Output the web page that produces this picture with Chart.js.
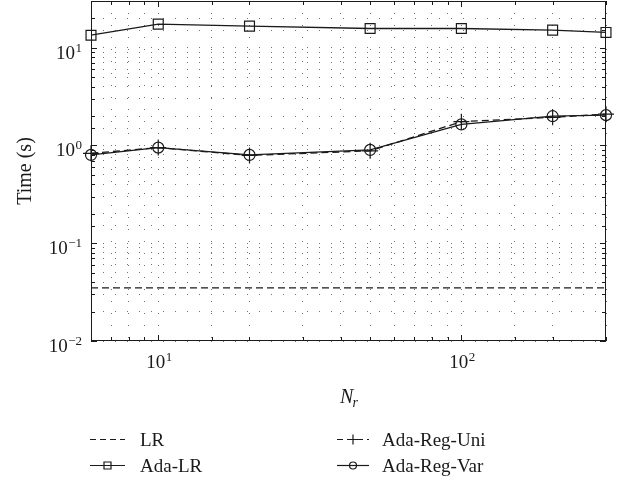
<!DOCTYPE html>
<html><head><meta charset="utf-8">
<script src="https://cdn.jsdelivr.net/npm/chart.js@4"></script>
<style>html,body{margin:0;padding:0;background:#fff}#wrap{width:621px;height:480px}</style>
</head><body><div id="wrap"><canvas id="c" width="621" height="480"></canvas></div>
<script>
// ---- data ----
const nr = [6, 10, 20, 50, 100, 200, 300];
const lr = [0.035, 0.035, 0.035, 0.035, 0.035, 0.035, 0.035];
const adaLR = [13.4, 17.4, 16.6, 15.7, 15.7, 15.1, 14.3];
const adaRegUni = [0.83, 0.95, 0.79, 0.88, 1.75, 1.94, 2.09];
const adaRegVar = [0.80, 0.95, 0.80, 0.90, 1.64, 1.99, 2.04];
const seriesNames = ['LR', 'Ada-LR', 'Ada-Reg-Uni', 'Ada-Reg-Var'];
const xRange = [6, 300];
const yRange = [0.01, 30];
const xTickLabels = [10, 100];
const yTickLabels = [0.01, 0.1, 1, 10];
const xTitleMain = 'N', xTitleSub = 'r';
const yTitle = 'Time (s)';

const INK = '#1a1a1a';
const FONT = '"Liberation Serif", "DejaVu Serif", serif';

function pts(ys) { return nr.map((x, i) => ({x: x, y: ys[i]})); }

const dash = [7, 4];
const datasets = [
  {label: seriesNames[0], data: pts(lr), borderDash: dash, pointRadius: 0, mk: 'none'},
  {label: seriesNames[1], data: pts(adaLR), pointStyle: 'rect', pointRadius: 7, mk: 'rect'},
  {label: seriesNames[2], data: pts(adaRegUni), borderDash: dash, pointStyle: 'cross', pointRadius: 8, mk: 'cross'},
  {label: seriesNames[3], data: pts(adaRegVar), pointStyle: 'circle', pointRadius: 5.5, mk: 'circle'}
].map(d => Object.assign({
  borderColor: INK, borderWidth: 1.3, backgroundColor: 'rgba(0,0,0,0)',
  pointBorderColor: INK, pointBackgroundColor: 'rgba(0,0,0,0)', pointBorderWidth: 1.2,
  pointHoverRadius: 0, tension: 0, clip: false, fill: false
}, d));

function supLabel(ctx, x, y, base, exp, align) {
  const mainF = '19px ' + FONT, supF = '13px ' + FONT;
  ctx.font = mainF; const wb = ctx.measureText(base).width;
  ctx.font = supF; const we = ctx.measureText(exp).width;
  const total = wb + we + 0.5;
  let x0 = align === 'right' ? x - total : x - total / 2;
  ctx.textAlign = 'left'; ctx.textBaseline = 'alphabetic';
  ctx.font = mainF; ctx.fillText(base, x0, y);
  ctx.font = supF; ctx.fillText(exp, x0 + wb + 0.5, y - 7);
}
function expStr(v) { const e = Math.round(Math.log10(v)); return (e < 0 ? '\u2212' : '') + Math.abs(e); }

function drawMarker(ctx, kind, x, y, s) {
  ctx.beginPath();
  if (kind === 'rect') { ctx.rect(x - s, y - s, 2 * s, 2 * s); }
  else if (kind === 'circle') { ctx.arc(x, y, s, 0, Math.PI * 2); }
  else if (kind === 'cross') { ctx.moveTo(x - s, y); ctx.lineTo(x + s, y); ctx.moveTo(x, y - s); ctx.lineTo(x, y + s); }
  ctx.stroke();
}

const decor = {
  id: 'decor',
  afterDraw(chart) {
    const ctx = chart.ctx, a = chart.chartArea;
    const xs = chart.scales.x, ys = chart.scales.y;
    ctx.save();
    ctx.strokeStyle = INK; ctx.lineWidth = 1; ctx.setLineDash([]);
    // box
    ctx.strokeRect(Math.round(a.left) + 0.5, Math.round(a.top) + 0.5, Math.round(a.right - a.left) - 1, Math.round(a.bottom - a.top) - 1);
    // inside ticks
    ctx.beginPath();
    xs.ticks.forEach(t => {
      const px = Math.round(xs.getPixelForValue(t.value)) + 0.5;
      const L = xTickLabels.includes(t.value) ? 6 : 4;
      ctx.moveTo(px, a.bottom); ctx.lineTo(px, a.bottom - L);
      ctx.moveTo(px, a.top); ctx.lineTo(px, a.top + L);
    });
    ys.ticks.forEach(t => {
      const py = Math.round(ys.getPixelForValue(t.value)) + 0.5;
      const L = yTickLabels.some(v => Math.abs(v - t.value) < 1e-9) ? 6 : 4;
      ctx.moveTo(a.left, py); ctx.lineTo(a.left + L, py);
      ctx.moveTo(a.right, py); ctx.lineTo(a.right - L, py);
    });
    ctx.stroke();
    // tick labels
    ctx.fillStyle = INK;
    xTickLabels.forEach(v => supLabel(ctx, xs.getPixelForValue(v) + 1, a.bottom + 27, '10', expStr(v), 'center'));
    yTickLabels.forEach(v => supLabel(ctx, a.left - 9, ys.getPixelForValue(v) + 11, '10', expStr(v), 'right'));
    // x title
    ctx.font = 'italic 20px ' + FONT; ctx.textAlign = 'left'; ctx.textBaseline = 'alphabetic';
    const wN = ctx.measureText(xTitleMain).width;
    ctx.font = 'italic 14px ' + FONT; const wr = ctx.measureText(xTitleSub).width;
    const cx = (a.left + a.right) / 2 + 1;
    const x0 = cx - (wN + wr) / 2;
    ctx.font = 'italic 20px ' + FONT; ctx.fillText(xTitleMain, x0, 403);
    ctx.font = 'italic 14px ' + FONT; ctx.fillText(xTitleSub, x0 + wN - 1, 407);
    // y title
    ctx.save();
    ctx.translate(31, (a.top + a.bottom) / 2);
    ctx.rotate(-Math.PI / 2);
    ctx.font = '20px ' + FONT; ctx.textAlign = 'center'; ctx.textBaseline = 'alphabetic';
    ctx.fillText(yTitle, 0, 0);
    ctx.restore();
    // legend
    const cols = [{x1: 90, x2: 125, tx: 140}, {x1: 337, x2: 369, tx: 382}];
    const rows = [439, 465];
    const order = [[0, 0, 0], [1, 0, 1], [2, 1, 0], [3, 1, 1]]; // dataset, col, row
    order.forEach(([di, ci, ri]) => {
      const d = chart.data.datasets[di];
      const c = cols[ci], y = rows[ri] + 0.5;
      ctx.strokeStyle = INK; ctx.lineWidth = 1.2;
      ctx.setLineDash(d.borderDash ? [6, 4] : []);
      ctx.beginPath(); ctx.moveTo(c.x1, y); ctx.lineTo(c.x2, y); ctx.stroke();
      ctx.setLineDash([]);
      const mx = (c.x1 + c.x2) / 2;
      if (d.mk === 'rect') drawMarker(ctx, 'rect', mx, y, 3.5);
      if (d.mk === 'circle') drawMarker(ctx, 'circle', mx, y, 3.5);
      if (d.mk === 'cross') drawMarker(ctx, 'cross', mx, y, 5);
      ctx.font = '19px ' + FONT; ctx.textAlign = 'left'; ctx.textBaseline = 'alphabetic';
      ctx.fillStyle = INK;
      ctx.fillText(d.label, c.tx, rows[ri] + 6.5);
    });
    ctx.restore();
  }
};

const gridOpts = {display: true, drawTicks: false, drawOnChartArea: true, color: 'rgba(0,0,0,0.55)', lineWidth: 1};
new Chart(document.getElementById('c'), {
  type: 'line',
  data: {datasets: datasets},
  options: {
    responsive: false, devicePixelRatio: 1, animation: false,
    layout: {autoPadding: false, padding: {left: 91, top: 1, right: 15, bottom: 139}},
    plugins: {legend: {display: false}, tooltip: {enabled: false}},
    events: [],
    scales: {
      x: {type: 'logarithmic', min: xRange[0], max: xRange[1], grid: gridOpts,
          border: {display: false, dash: [1, 11]}, ticks: {display: false}},
      y: {type: 'logarithmic', min: yRange[0], max: yRange[1], grid: gridOpts,
          border: {display: false, dash: [1, 11]}, ticks: {display: false}}
    }
  },
  plugins: [decor]
});
</script></body></html>
